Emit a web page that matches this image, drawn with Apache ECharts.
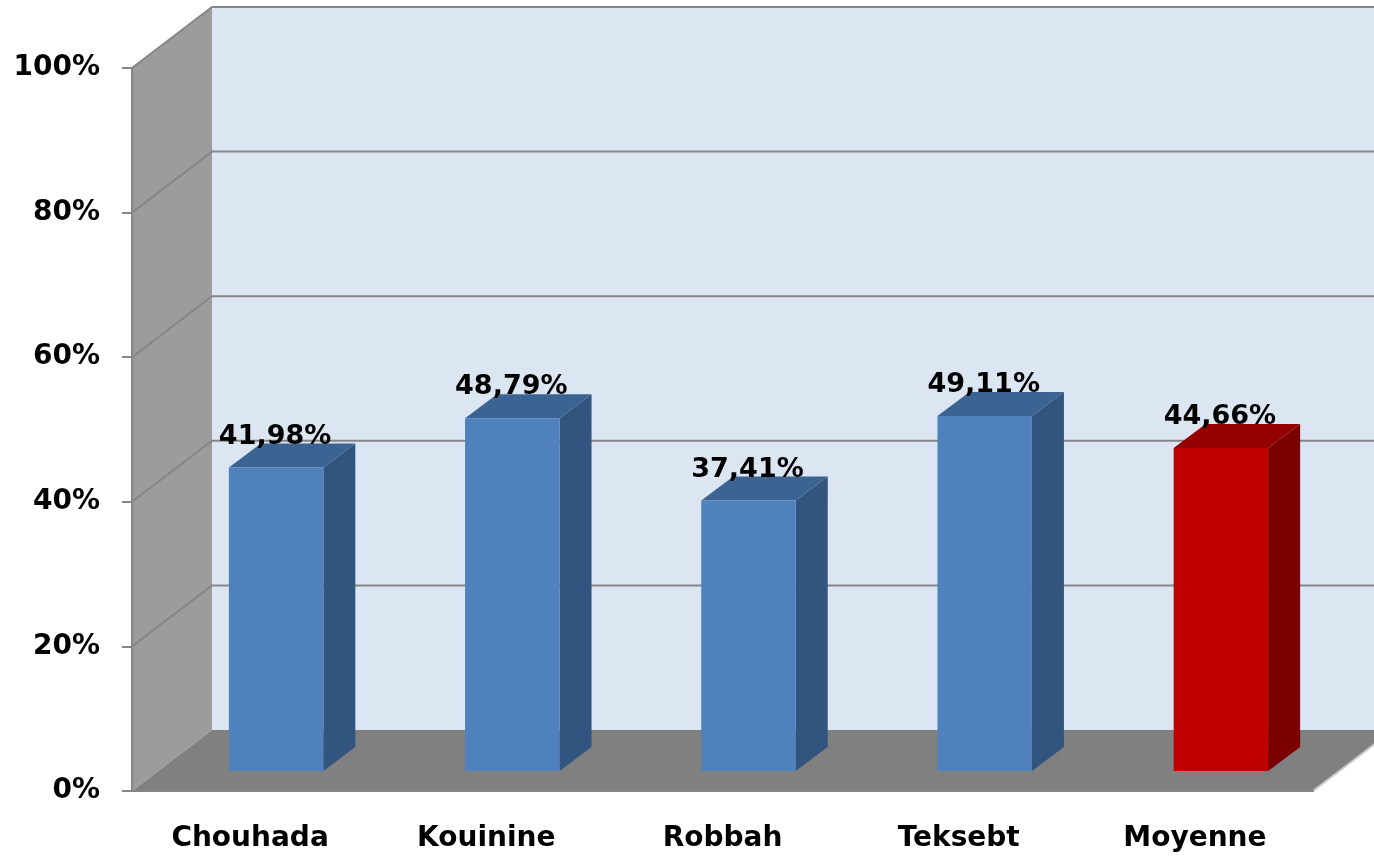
<!DOCTYPE html>
<html>
<head>
<meta charset="utf-8">
<script src="https://cdn.jsdelivr.net/npm/echarts@6/dist/echarts.min.js"></script>
<style>
  html, body { margin: 0; padding: 0; background: #fff; }
  #chart { width: 1374px; height: 859px; }
</style>
</head>
<body>
<div id="chart"></div>
<script>
const categories = ["Chouhada", "Kouinine", "Robbah", "Teksebt", "Moyenne"];
const values = [41.98, 48.79, 37.41, 49.11, 44.66];
const yTicks = [0, 20, 40, 60, 80, 100];

// 3d look: offset of the back wall, and of the bars inside the box
const DEPTH = [80, -61];
const BAR_FRONT = [26, -20];
const BAR_DEPTH = [32, -24];

const FONT = "DejaVu Sans";

const chart = echarts.init(document.getElementById("chart"));

const wallsItem = (params, api) => {
  const cs = params.coordSys;
  const x0 = cs.x;
  const x1 = cs.x + cs.width;
  const yBase = api.coord([0, yTicks[0]])[1];
  const yTop = api.coord([0, yTicks[yTicks.length - 1]])[1];
  const [dx, dy] = DEPTH;
  const children = [
    {
      type: "polygon",
      shape: { points: [[x0 + dx, yTop + dy], [x1 + dx + 40, yTop + dy], [x1 + dx + 40, yBase + dy], [x0 + dx, yBase + dy]] },
      style: { fill: "#dce6f2" },
    },
    {
      type: "polygon",
      shape: { points: [[x0, yBase], [x0 + dx, yBase + dy], [x0 + dx, yTop + dy], [x0, yTop]] },
      style: { fill: "#9c9c9c" },
    },
    {
      type: "polygon",
      shape: { points: [[x0, yBase], [x1, yBase], [x1 + dx, yBase + dy], [x0 + dx, yBase + dy]] },
      style: { fill: "#808080" },
    },
    {
      type: "line",
      shape: { x1: x1, y1: yBase, x2: x1 + dx, y2: yBase + dy },
      style: { stroke: "#c8c8c8", lineWidth: 2 },
    },
  ];
  yTicks.slice(1).forEach((v) => {
    const y = api.coord([0, v])[1];
    children.push({
      type: "polyline",
      shape: { points: [[x0, y], [x0 + dx, y + dy], [x1 + dx + 40, y + dy]] },
      style: { stroke: "#868686", lineWidth: 2, fill: null },
    });
  });
  return { type: "group", children };
};

const barItem = (params, api) => {
  const idx = api.value(0);
  const v = api.value(1);
  const base = api.coord([idx, 0]);
  const top = api.coord([idx, v]);
  const bw = api.size([1, 0])[0] * 0.4;
  const l = base[0] + BAR_FRONT[0] - bw / 2;
  const r = l + bw;
  const yb = base[1] + BAR_FRONT[1];
  const yt = top[1] + BAR_FRONT[1];
  const [bx, by] = BAR_DEPTH;
  // last bar (average) is red
  const red = idx === categories.length - 1;
  const c = red
    ? { front: "#c00000", side: "#7b0000", top: "#950000" }
    : { front: "#4f81bd", side: "#32557f", top: "#3c6492" };
  return {
    type: "group",
    children: [
      {
        type: "polygon",
        shape: { points: [[r, yt], [r + bx, yt + by], [r + bx, yb + by], [r, yb]] },
        style: { fill: c.side },
      },
      {
        type: "polygon",
        shape: { points: [[l, yt], [l + bx, yt + by], [r + bx, yt + by], [r, yt]] },
        style: { fill: c.top },
      },
      {
        type: "rect",
        shape: { x: l, y: yt, width: bw, height: yb - yt },
        style: { fill: c.front },
      },
      {
        type: "text",
        x: l + bw / 2 - 1,
        y: yt - 31,
        style: {
          text: v.toFixed(2).replace(".", ",") + "%",
          fill: "#000",
          font: "bold 27px '" + FONT + "'",
          align: "center",
          verticalAlign: "middle",
        },
      },
    ],
  };
};

chart.setOption({
  animation: false,
  backgroundColor: "#ffffff",
  grid: { left: 132, right: 61, top: 68, bottom: 68 },
  xAxis: {
    type: "category",
    data: categories,
    z: 10,
    axisLine: { lineStyle: { color: "#868686", width: 2 } },
    axisTick: { length: 12, lineStyle: { color: "#868686", width: 2 } },
    axisLabel: {
      margin: 34,
      color: "#000",
      fontFamily: FONT,
      fontWeight: "bold",
      fontSize: 28,
    },
  },
  yAxis: {
    type: "value",
    min: 0,
    max: 100,
    interval: 20,
    z: 10,
    axisLine: { show: true, lineStyle: { color: "#868686", width: 2 } },
    axisTick: { show: true, length: 10, lineStyle: { color: "#868686", width: 2 } },
    splitLine: { show: false },
    axisLabel: {
      formatter: "{value}%",
      margin: 32,
      color: "#000",
      fontFamily: FONT,
      fontWeight: "bold",
      fontSize: 28,
    },
  },
  series: [
    {
      type: "custom",
      z: 1,
      clip: false,
      silent: true,
      data: [[0, 0]],
      renderItem: wallsItem,
    },
    {
      type: "custom",
      z: 3,
      clip: false,
      data: values.map((v, i) => [i, v]),
      encode: { x: 0, y: 1 },
      renderItem: barItem,
    },
  ],
});
</script>
</body>
</html>
